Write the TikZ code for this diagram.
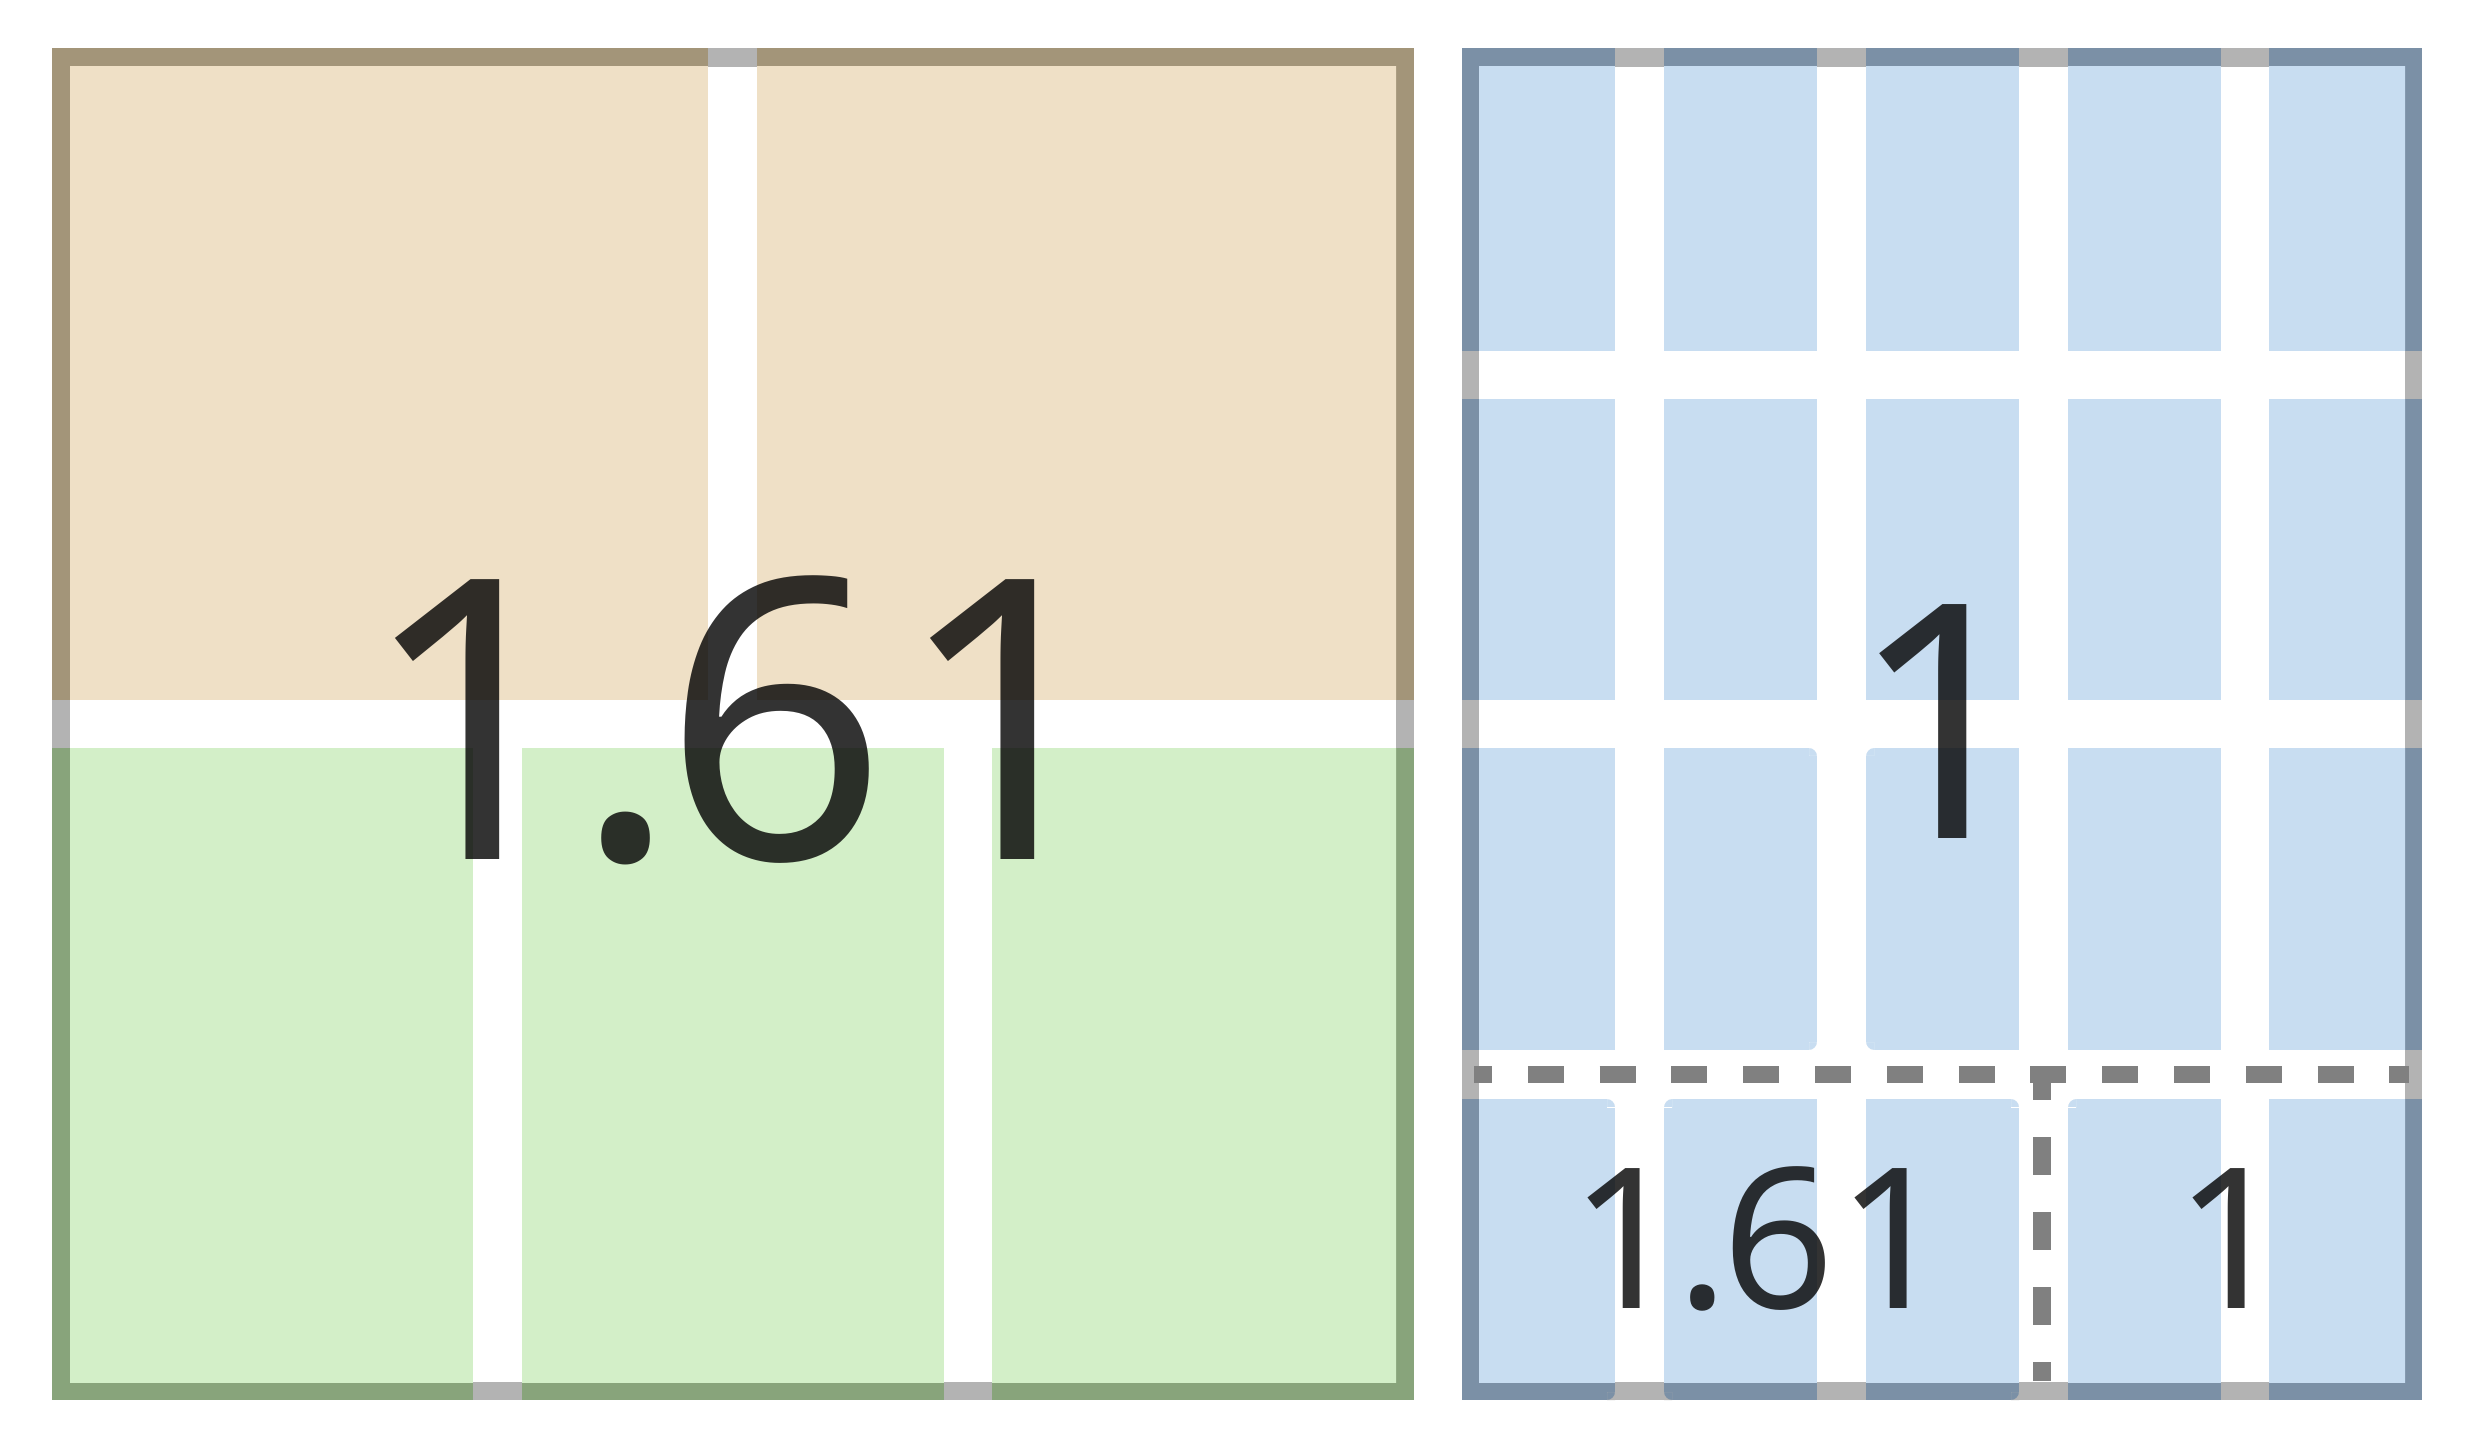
\documentclass[tikz,border=0pt]{standalone}
\usepackage{fontspec}
\usetikzlibrary{calc}
\setmainfont{Noto Sans}
\newfontfamily\numfont{Noto Sans}
\definecolor{framegray}{HTML}{B3B3B3}
\definecolor{tanD}{HTML}{A39579}
\definecolor{tanL}{HTML}{EFE0C6}
\definecolor{greenD}{HTML}{88A47B}
\definecolor{greenL}{HTML}{D3EFC8}
\definecolor{blueD}{HTML}{7B90A6}
\definecolor{blueL}{HTML}{C8DDF1}
\definecolor{dashgray}{HTML}{808080}
\tikzset{
  numtxt/.style={inner sep=0pt, anchor=base, text=black, text opacity=0.8},
  bigtxt/.style={numtxt, font=\numfont\fontsize{117.6}{120}\selectfont},
  midtxt/.style={numtxt, font=\numfont\fontsize{98.3}{100}\selectfont},
  smalltxt/.style={numtxt, font=\numfont\fontsize{58.8}{60}\selectfont},
  hdash/.style={draw=dashgray, line width=5.1pt, dash pattern=on 10.8pt off 10.74pt, dash phase=5.4pt},
  vdash/.style={draw=dashgray, line width=5.4pt, dash pattern=on 11.25pt off 11.25pt, dash phase=5.625pt}
}
% rounded-corner fillet: corner (#1,#2), offsets into the cell (#3,#4), colour behind #5
\newcommand\cornerfill[5]{%
  \begin{scope}
    \clip (#1,#2) rectangle ++(#3,#4);
    \fill[#5, even odd rule] (#1,#2) rectangle ++(#3,#4) ($(#1,#2)+(#3,#4)$) circle[radius=2.4pt];
  \end{scope}}
\newcommand\numtext{1\kern-0.028em.\kern-0.037em6\kern0.019em1}
\begin{document}
\begin{tikzpicture}[x=0.3pt,y=-0.3pt]
\useasboundingbox (0,0) rectangle (2465,1454);
\fill[white] (0,0) rectangle (2465,1454);

% ---------- left panel ----------
\fill[framegray] (52,48) rectangle (1414,1400);
\fill[white] (70,67) rectangle (1396,1382);
\fill[tanD] (52,48) rectangle (708,700);
\fill[tanD] (757,48) rectangle (1414,700);
\fill[greenD] (52,748) rectangle (473,1400);
\fill[greenD] (522,748) rectangle (944,1400);
\fill[greenD] (992,748) rectangle (1414,1400);
\begin{scope}
  \clip (70,67) rectangle (1396,1382);
  \fill[tanL] (52,48) rectangle (708,700);
  \fill[tanL] (757,48) rectangle (1414,700);
  \fill[greenL] (52,748) rectangle (473,1400);
  \fill[greenL] (522,748) rectangle (944,1400);
  \fill[greenL] (992,748) rectangle (1414,1400);
\end{scope}

% ---------- right panel ----------
\fill[framegray] (1462,48) rectangle (2422,1400);
\fill[white] (1479,67) rectangle (2405,1382);
\foreach \xa/\xb in {1462/1615,1664/1817,1866/2019,2068/2221,2269/2422}
  \foreach \ya/\yb in {48/351,399/700,748/1050,1099/1400}
    \fill[blueD] (\xa,\ya) rectangle (\xb,\yb);
\begin{scope}
  \clip (1479,67) rectangle (2405,1382);
  \foreach \xa/\xb in {1462/1615,1664/1817,1866/2019,2068/2221,2269/2422}
    \foreach \ya/\yb in {48/351,399/700,748/1050,1099/1400}
      \fill[blueL] (\xa,\ya) rectangle (\xb,\yb);
\end{scope}
% small rounded corners of some cells
\cornerfill{1817}{748}{-8}{8}{white}
\cornerfill{1866}{748}{8}{8}{white}
\cornerfill{1817}{1050}{-8}{-8}{white}
\cornerfill{1866}{1050}{8}{-8}{white}
\cornerfill{1615}{1099}{-8}{8}{white}
\cornerfill{1664}{1099}{8}{8}{white}
\cornerfill{2019}{1099}{-8}{8}{white}
\cornerfill{2068}{1099}{8}{8}{white}
\cornerfill{1615}{1400}{-8}{-8}{framegray}
\cornerfill{1664}{1400}{8}{-8}{framegray}
\cornerfill{2019}{1400}{-8}{-8}{framegray}

% dashed division lines
\coordinate (hA) at (1474,1074.5);
\coordinate (hB) at (2409,1074.5);
\coordinate (vA) at (2042,1081);
\coordinate (vB) at (2042,1381);
\draw[hdash] (hA) -- (hB);
\draw[vdash] (vA) -- (vB);

% ---------- labels ----------
\node[bigtxt] (big) at (740,860) {\numtext};
\node[midtxt] (mid) at (1944,839) {1};
\node[smalltxt] (small) at (1760,1308) {\numtext};
\node[smalltxt] (one) at (2232,1308) {1};
\end{tikzpicture}
\end{document}
